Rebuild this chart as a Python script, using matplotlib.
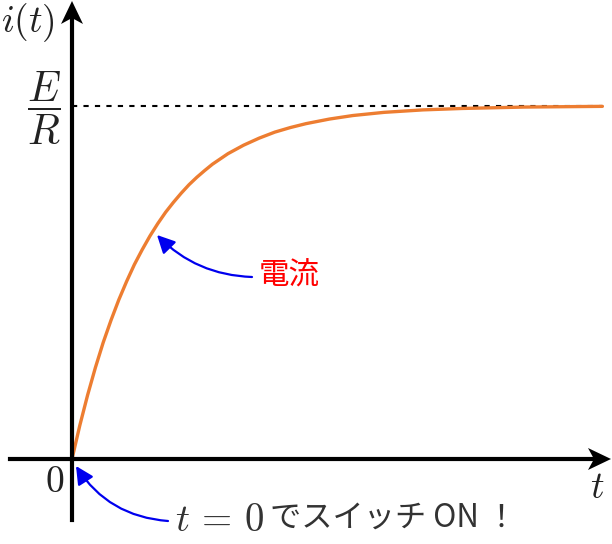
import matplotlib.pyplot as plt
from matplotlib.patches import Polygon

plt.rcParams['mathtext.fontset'] = 'cm'
plt.rcParams['font.family'] = ['Noto Sans CJK JP', 'DejaVu Sans']

# current curve (t in units of L/R, i in units of E/R)
t_vals = [0, 0.1, 0.2, 0.3, 0.4, 0.5, 0.6, 0.7, 0.8, 0.9, 1.0, 1.1, 1.2,
          1.3, 1.4, 1.5, 1.6, 1.7, 1.8, 1.9, 2.0, 2.2, 2.4, 2.6, 2.8, 3.0,
          3.3, 3.6, 4.0, 4.5, 5.0, 5.8, 6.8]
i_vals = [0, 0.095, 0.181, 0.259, 0.330, 0.393, 0.451, 0.503, 0.551, 0.593,
          0.632, 0.667, 0.699, 0.727, 0.753, 0.777, 0.798, 0.817, 0.835,
          0.850, 0.865, 0.889, 0.909, 0.926, 0.939, 0.950, 0.963, 0.973,
          0.982, 0.989, 0.993, 0.997, 0.999]
i_final = 1.0

x_label = "t"
y_label = "i(t)"
curve_label = "電流"
switch_math = r"$t\,=\,0$"
switch_text = "でスイッチ ON ！"

# pixel -> data helper (origin at pixel 72,459; one tau = 78 px; E/R = 353 px)
def P(x, y):
    return ((x - 72) / 78.0, (459 - y) / 353.0)

fig = plt.figure(figsize=(6.12, 5.44), dpi=100)
ax = fig.add_axes([0, 0, 1, 1])
x0, y1 = P(0, 0)
x1, y0 = P(612, 544)
ax.set_xlim(x0, x1)
ax.set_ylim(y0, y1)
ax.axis("off")

# dotted asymptote
ax.plot([0, t_vals[-1]], [i_final, i_final], color="black", lw=1.5,
        dashes=(2.5, 3), zorder=1)

# the curve
ax.plot(t_vals, i_vals, color="#ed7d31", lw=2.4, solid_capstyle="round",
        solid_joinstyle="round", zorder=2)

# axes with stealth arrow heads
ax.plot(*zip(P(10, 459), P(596, 459)), color="black", lw=3, zorder=3)
ax.plot(*zip(P(72, 520), P(72, 18)), color="black", lw=3, zorder=3)
ax.add_patch(Polygon([P(611, 459), P(588, 448), P(594, 459), P(588, 470)],
                     closed=True, color="black", lw=0, zorder=3))
ax.add_patch(Polygon([P(72, 1), P(61, 24), P(72, 18), P(83, 24)],
                     closed=True, color="black", lw=0, zorder=3))

# axis labels
ax.text(*P(28, 23), "$" + y_label + "$", fontsize=27, ha="center", va="center",
        color="#222222")
ax.text(*P(597, 488), "$" + x_label + "$", fontsize=27, ha="center", va="center",
        color="#222222")
ax.text(*P(55, 482), "$0$", fontsize=27, ha="center", va="center", color="#222222")
ax.text(*P(44, 108), r"$\dfrac{E}{R}$", fontsize=30, ha="center", va="center",
        color="#222222")

# annotations
blue = dict(arrowstyle="-|>,head_length=0.9,head_width=0.45", lw=1.6,
            color="#0000ee", shrinkA=0, shrinkB=0, mutation_scale=12)
ax.text(*P(259, 276), curve_label, fontsize=22, ha="left", va="center",
        color="#ff0000")
ax.annotate("", xy=P(157, 235), xytext=P(252, 277),
            arrowprops=dict(blue, connectionstyle="arc3,rad=-0.2"))
ax.text(*P(175, 520), switch_math, fontsize=28, ha="left", va="center",
        color="#333333")
ax.text(*P(270, 518), switch_text, fontsize=22.5, ha="left", va="center",
        color="#333333")
ax.annotate("", xy=P(76, 466), xytext=P(168, 521),
            arrowprops=dict(blue, connectionstyle="arc3,rad=-0.25"))

fig.savefig("out.png", dpi=100)
